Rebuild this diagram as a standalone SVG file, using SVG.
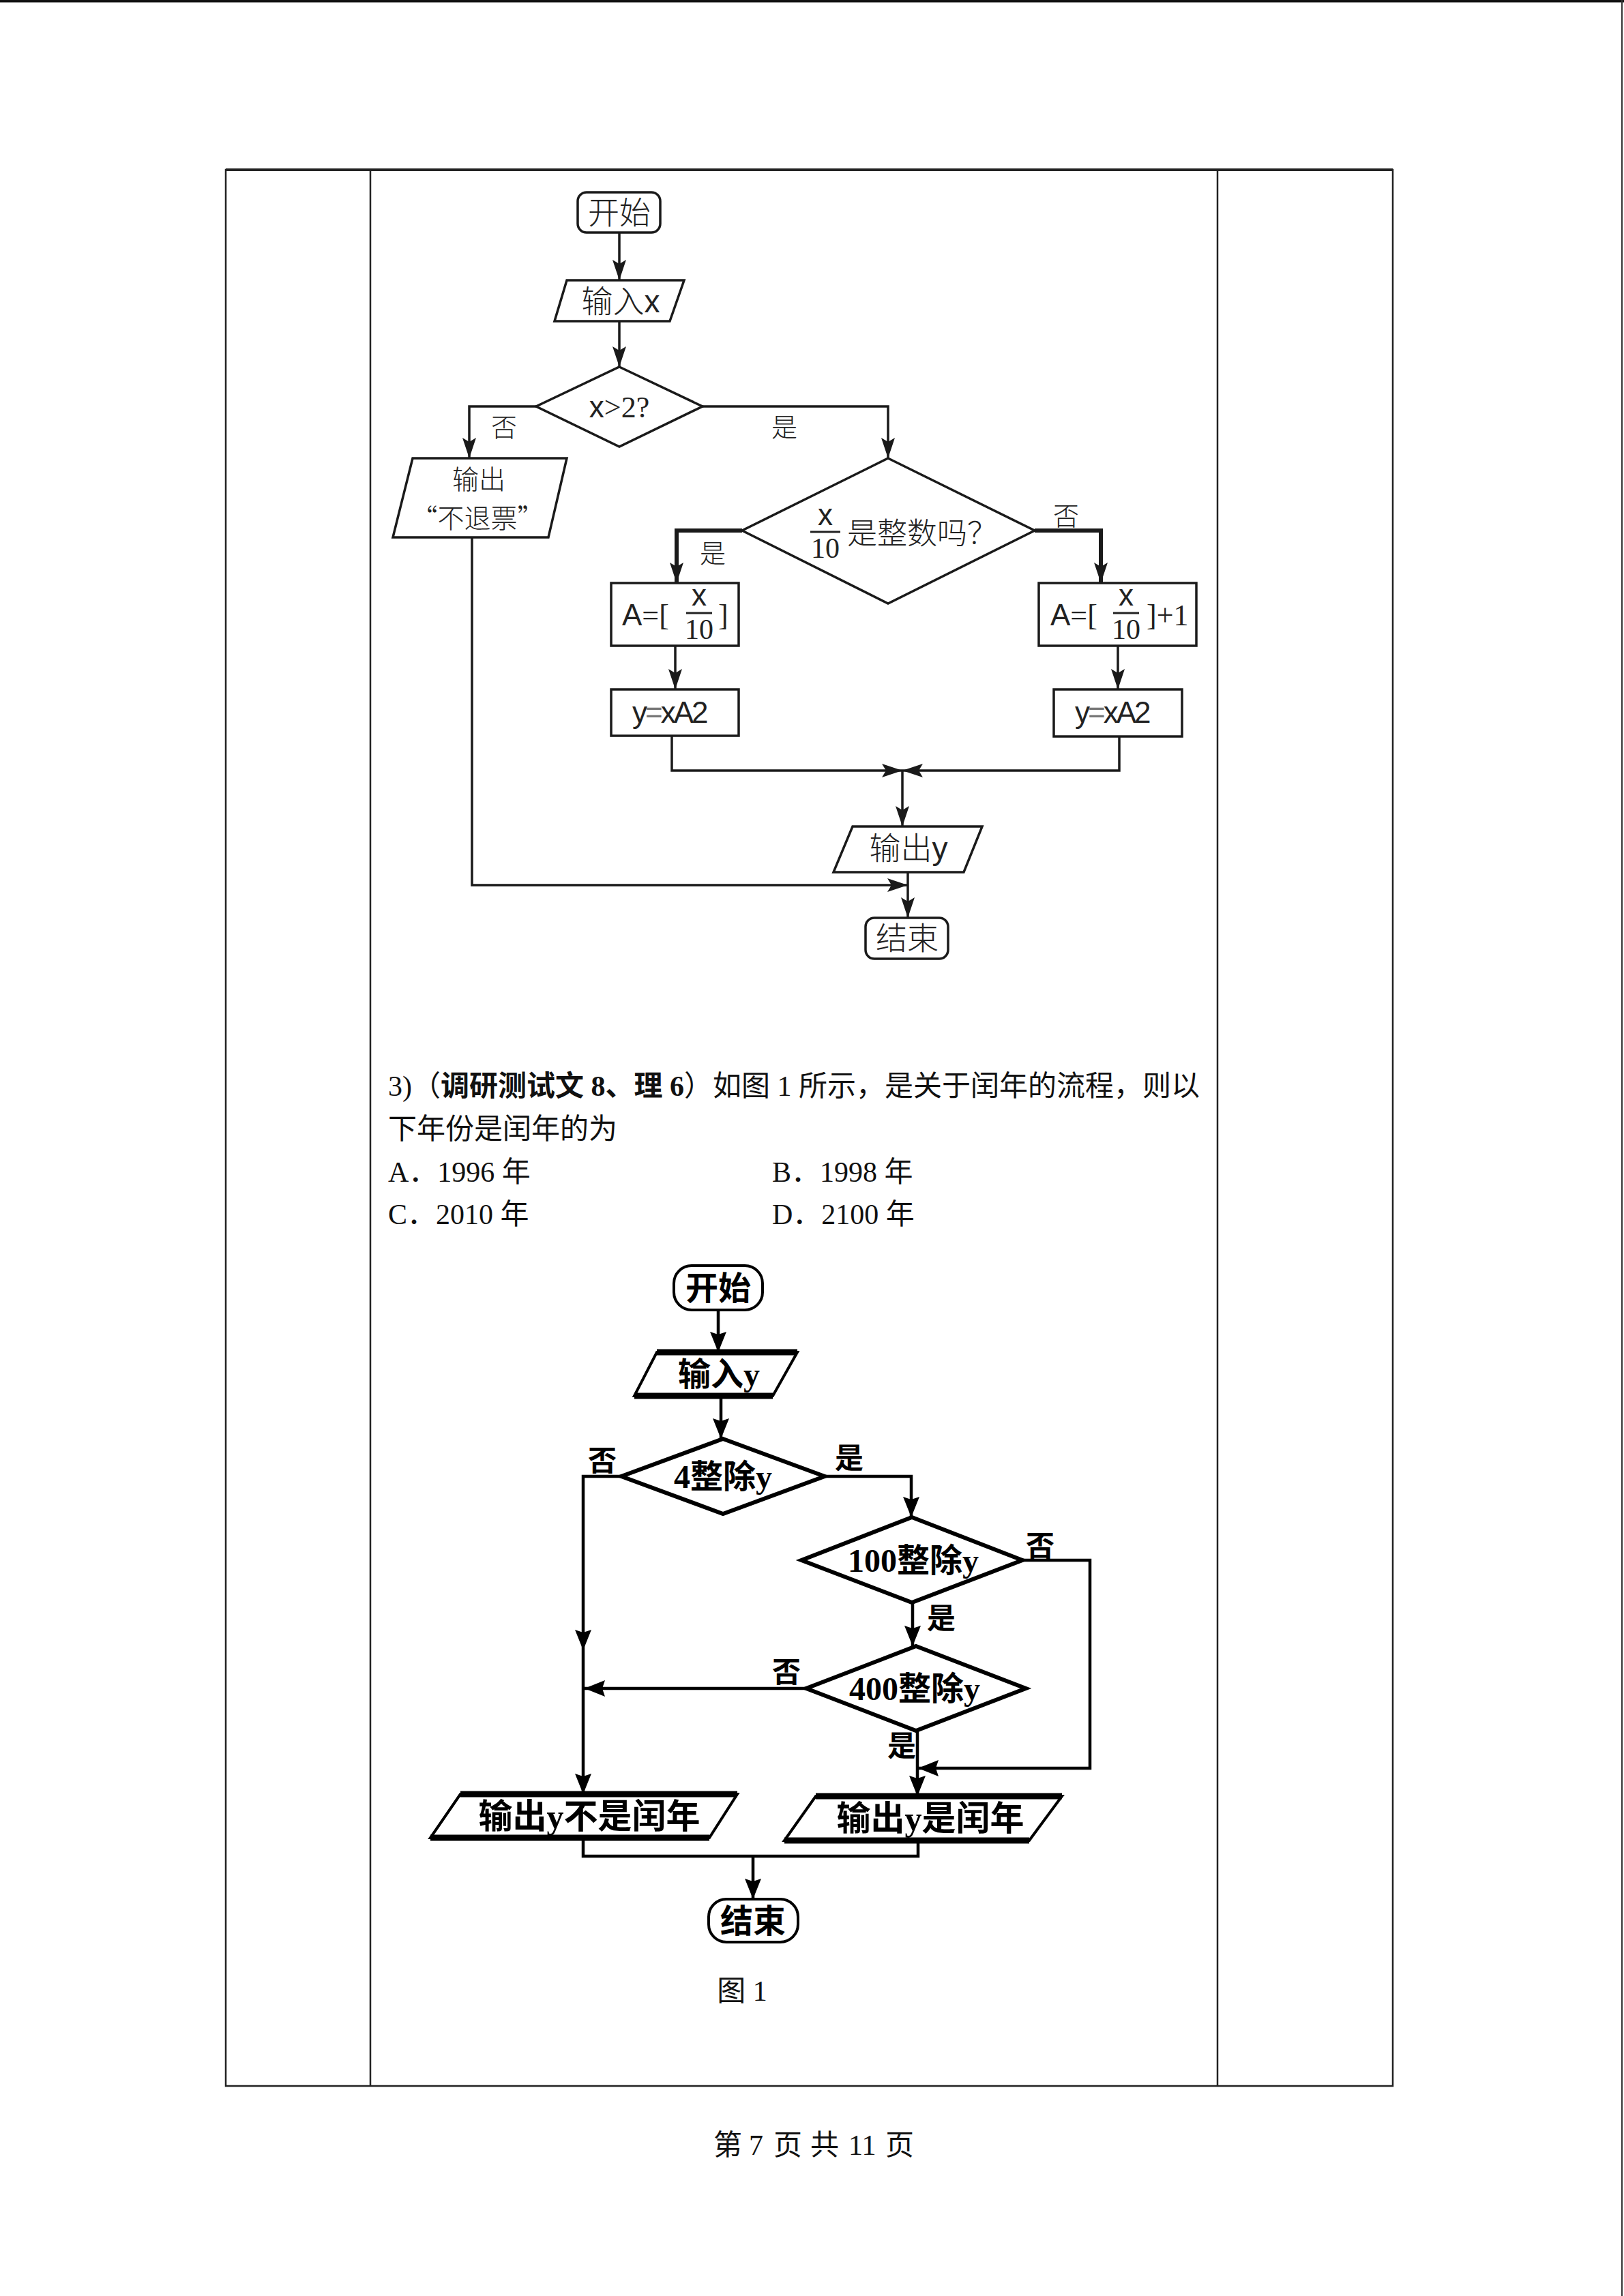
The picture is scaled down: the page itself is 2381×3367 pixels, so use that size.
<svg xmlns="http://www.w3.org/2000/svg" width="2381" height="3367" viewBox="0 0 2381 3367">
<style>
.bg{fill:#fff}
.frame{fill:none;stroke:#222;stroke-width:2.5}
.s1{fill:none;stroke:#1a1a1a;stroke-width:3.5}
.c1{fill:none;stroke:#1a1a1a;stroke-width:3.5}
.c1t{fill:none;stroke:#1a1a1a;stroke-width:6}
.s2{fill:none;stroke:#000;stroke-width:6}
.s2t{fill:none;stroke:#000;stroke-width:4}
.s2e{fill:none;stroke:#000;stroke-width:9}
.c2{fill:none;stroke:#000;stroke-width:4.5}
.cjk1{font-family:"Noto Sans CJK SC","Liberation Serif",sans-serif;font-weight:300;fill:#222}
.lat1{font-family:"Liberation Sans","Noto Sans CJK SC",sans-serif;fill:#222}
.ser1{font-family:"Liberation Serif","Noto Sans CJK SC",serif;fill:#222}
.b2{font-family:"Liberation Serif","Noto Sans CJK SC",serif;font-weight:bold;fill:#000}
.txt{font-family:"Liberation Serif","Noto Sans CJK SC",serif;fill:#111;font-size:42px}
.bold{font-weight:bold}
</style>
<defs>
<marker id="a1" viewBox="0 0 30 20" refX="30" refY="10" markerWidth="30" markerHeight="20" markerUnits="userSpaceOnUse" orient="auto">
<path d="M0,0 L30,10 L0,20 L6,10 Z" fill="#1a1a1a"/>
</marker>
<marker id="a2" viewBox="0 0 30 24" refX="30" refY="12" markerWidth="30" markerHeight="24" markerUnits="userSpaceOnUse" orient="auto">
<path d="M0,0 L30,12 L0,24 L4,12 Z" fill="#000"/>
</marker>
</defs>
<rect class="bg" x="0" y="0" width="2381" height="3367"/>
<!-- page edges -->
<line x1="0" y1="1.5" x2="2381" y2="1.5" stroke="#111" stroke-width="4"/>
<line x1="2378" y1="0" x2="2378" y2="3367" stroke="#333" stroke-width="2"/>
<!-- table -->
<g id="table">
<rect class="frame" x="331" y="249" width="1711" height="2810"/>
<line x1="331" y1="249" x2="2042" y2="249" stroke="#222" stroke-width="4"/>
<line class="frame" x1="543" y1="249" x2="543" y2="3059"/>
<line class="frame" x1="1785" y1="249" x2="1785" y2="3059"/>
</g>

<!-- ===== Flowchart 1 ===== -->
<g id="f1-connectors">
<path class="c1" d="M908,341 V411" marker-end="url(#a1)"/>
<path class="c1" d="M908,471 V538" marker-end="url(#a1)"/>
<path class="c1" d="M786,596 H688 V672" marker-end="url(#a1)"/>
<path class="c1" d="M1030,596 H1302 V672" marker-end="url(#a1)"/>
<path class="c1t" d="M1088,778 H992 V855" marker-end="url(#a1)"/>
<path class="c1t" d="M1517,778 H1614 V855" marker-end="url(#a1)"/>
<path class="c1" d="M990,947 V1011" marker-end="url(#a1)"/>
<path class="c1" d="M1639,947 V1011" marker-end="url(#a1)"/>
<path class="c1" d="M985,1079 V1130 H1323" marker-end="url(#a1)"/>
<path class="c1" d="M1641,1080 V1130 H1323" marker-end="url(#a1)"/>
<path class="c1" d="M1323,1130 V1212" marker-end="url(#a1)"/>
<path class="c1" d="M692,788 V1298 H1331" marker-end="url(#a1)"/>
<path class="c1" d="M1331,1279 V1346" marker-end="url(#a1)"/>
<text class="cjk1" x="739" y="640" font-size="38" text-anchor="middle">否</text>
<text class="cjk1" x="1150" y="640" font-size="38" text-anchor="middle">是</text>
<text class="cjk1" x="1045" y="825" font-size="38" text-anchor="middle">是</text>
<text class="cjk1" x="1563" y="770" font-size="38" text-anchor="middle">否</text>
</g>

<g id="f1-start">
<rect class="s1" x="847" y="282" width="121" height="59" rx="13"/>
<text class="cjk1" x="908" y="328" font-size="46" text-anchor="middle">开始</text>
</g>
<g id="f1-input">
<polygon class="s1" points="831,411 1003,411 982,471 813,471"/>
<text x="910" y="458" font-size="46" text-anchor="middle"><tspan class="cjk1">输入</tspan><tspan class="lat1">x</tspan></text>
</g>
<g id="f1-cond1">
<polygon class="s1" points="908,538 1030,596 908,655 786,596"/>
<text x="908" y="612" font-size="44" text-anchor="middle"><tspan class="lat1">x</tspan><tspan class="ser1">&gt;2?</tspan></text>
</g>
<g id="f1-noref">
<polygon class="s1" points="605,672 831,672 804,788 576,788"/>
<text class="cjk1" x="702" y="717" font-size="39" text-anchor="middle">输出</text>
<text class="cjk1" x="700" y="774" font-size="39" text-anchor="middle">“不退票”</text>
</g>
<g id="f1-cond2">
<polygon class="s1" points="1302,672 1517,778 1302,885 1088,778"/>
<text class="lat1" x="1210" y="770" font-size="44" text-anchor="middle">x</text>
<line x1="1188" y1="780" x2="1232" y2="780" stroke="#222" stroke-width="3"/>
<text class="ser1" x="1210" y="818" font-size="42" text-anchor="middle">10</text>
<text class="cjk1" x="1242" y="798" font-size="44">是整数吗？</text>
</g>
<g id="f1-boxA1">
<rect class="s1" x="896" y="855" width="187" height="92"/>
<text x="912" y="917" font-size="44"><tspan class="lat1">A</tspan><tspan class="ser1" fill="#777">=</tspan><tspan class="ser1">[</tspan></text>
<text class="lat1" x="1025" y="888" font-size="44" text-anchor="middle">x</text>
<line x1="1006" y1="899" x2="1044" y2="899" stroke="#222" stroke-width="3"/>
<text class="ser1" x="1025" y="937" font-size="42" text-anchor="middle">10</text>
<text class="ser1" x="1053" y="917" font-size="44">]</text>
</g>
<g id="f1-boxA2">
<rect class="s1" x="1523" y="855" width="231" height="92"/>
<text x="1540" y="917" font-size="44"><tspan class="lat1">A</tspan><tspan class="ser1" fill="#777">=</tspan><tspan class="ser1">[</tspan></text>
<text class="lat1" x="1651" y="888" font-size="44" text-anchor="middle">x</text>
<line x1="1632" y1="899" x2="1670" y2="899" stroke="#222" stroke-width="3"/>
<text class="ser1" x="1651" y="937" font-size="42" text-anchor="middle">10</text>
<text class="ser1" x="1681" y="917" font-size="44">]+1</text>
</g>
<g id="f1-boxY1">
<rect class="s1" x="896" y="1011" width="187" height="68"/>
<text class="lat1" x="927" y="1060" font-size="44" letter-spacing="-3">y<tspan fill="#777">=</tspan>xA2</text>
</g>
<g id="f1-boxY2">
<rect class="s1" x="1545" y="1011" width="188" height="69"/>
<text class="lat1" x="1576" y="1060" font-size="44" letter-spacing="-3">y<tspan fill="#777">=</tspan>xA2</text>
</g>
<g id="f1-output">
<polygon class="s1" points="1250,1212 1440,1212 1413,1279 1222,1279"/>
<text x="1332" y="1260" font-size="46" text-anchor="middle"><tspan class="cjk1">输出</tspan><tspan class="lat1">y</tspan></text>
</g>
<g id="f1-end">
<rect class="s1" x="1269" y="1346" width="121" height="60" rx="13"/>
<text class="cjk1" x="1330" y="1392" font-size="46" text-anchor="middle">结束</text>
</g>

<!-- ===== Question text ===== -->
<g id="question">
<text class="txt" x="569" y="1607">3)（<tspan class="bold">调研测试文 8、理 6</tspan>）如图 1 所示，是关于闰年的流程，则以</text>
<text class="txt" x="569" y="1670">下年份是闰年的为</text>
<text class="txt" x="569" y="1733">A．1996 年</text>
<text class="txt" x="1132" y="1733">B．1998 年</text>
<text class="txt" x="569" y="1795">C．2010 年</text>
<text class="txt" x="1132" y="1795">D．2100 年</text>
</g>

<!-- ===== Flowchart 2 ===== -->
<g id="f2-connectors">
<path class="c2" d="M1053,1921 V1983" marker-end="url(#a2)"/>
<path class="c2" d="M1057,2047 V2110" marker-end="url(#a2)"/>
<path class="c2" d="M911,2165 H855 V2420" marker-end="url(#a2)"/>
<path class="c2" d="M855,2420 V2631" marker-end="url(#a2)"/>
<path class="c2" d="M1209,2165 H1336 V2225" marker-end="url(#a2)"/>
<path class="c2" d="M1499,2288 H1598 V2593 H1346" marker-end="url(#a2)"/>
<path class="c2" d="M1338,2350 V2414" marker-end="url(#a2)"/>
<path class="c2" d="M1182,2476 H857" marker-end="url(#a2)"/>
<path class="c2" d="M1345,2538 V2634" marker-end="url(#a2)"/>
<path class="c2" d="M855,2695 V2722 H1346 V2699"/>
<path class="c2" d="M1104,2722 V2785" marker-end="url(#a2)"/>
<text class="b2" x="883" y="2157" font-size="42" text-anchor="middle">否</text>
<text class="b2" x="1245" y="2153" font-size="42" text-anchor="middle">是</text>
<text class="b2" x="1525" y="2282" font-size="42" text-anchor="middle">否</text>
<text class="b2" x="1380" y="2388" font-size="42" text-anchor="middle">是</text>
<text class="b2" x="1153" y="2467" font-size="42" text-anchor="middle">否</text>
<text class="b2" x="1322" y="2575" font-size="42" text-anchor="middle">是</text>
</g>
<g id="f2-start">
<rect class="s2t" x="988" y="1856" width="130" height="65" rx="26"/>
<text class="b2" x="1053" y="1906" font-size="48" text-anchor="middle">开始</text>
</g>
<g id="f2-input">
<polygon class="s2t" points="963,1983 1169,1983 1133,2047 930,2047"/>
<line class="s2e" x1="963" y1="1983" x2="1169" y2="1983" stroke-width="7"/>
<line class="s2e" x1="930" y1="2047" x2="1133" y2="2047" stroke-width="7"/>
<text class="b2" x="1054" y="2032" font-size="48" text-anchor="middle">输入y</text>
</g>
<g id="f2-cond4">
<polygon class="s2" points="1060,2110 1209,2165 1060,2220 911,2165"/>
<text class="b2" x="1060" y="2182" font-size="48" text-anchor="middle">4整除y</text>
</g>
<g id="f2-cond100">
<polygon class="s2" points="1337,2225 1499,2288 1337,2350 1175,2288"/>
<text class="b2" x="1339" y="2305" font-size="48" text-anchor="middle">100整除y</text>
</g>
<g id="f2-cond400">
<polygon class="s2" points="1343,2414 1504,2476 1343,2538 1182,2476"/>
<text class="b2" x="1341" y="2493" font-size="48" text-anchor="middle">400整除y</text>
</g>
<g id="f2-notleap">
<polygon class="s2t" points="675,2631 1081,2631 1040,2695 631,2695"/>
<line class="s2e" x1="675" y1="2631" x2="1081" y2="2631"/>
<line class="s2e" x1="631" y1="2695" x2="1040" y2="2695"/>
<text class="b2" x="864" y="2681" font-size="50" text-anchor="middle">输出y不是闰年</text>
</g>
<g id="f2-leap">
<polygon class="s2t" points="1196,2634 1557,2634 1509,2699 1150,2699"/>
<line class="s2e" x1="1196" y1="2634" x2="1557" y2="2634"/>
<line class="s2e" x1="1150" y1="2699" x2="1509" y2="2699"/>
<text class="b2" x="1364" y="2684" font-size="50" text-anchor="middle">输出y是闰年</text>
</g>
<g id="f2-end">
<rect class="s2t" x="1039" y="2785" width="131" height="63" rx="26"/>
<text class="b2" x="1104" y="2834" font-size="48" text-anchor="middle">结束</text>
</g>

<text class="txt" x="1088" y="2934" font-size="40" text-anchor="middle">图 1</text>

<g id="footer" class="txt" font-size="36">
<text x="1046" y="3160">第</text>
<text x="1098" y="3160">7</text>
<text x="1134" y="3160">页</text>
<text x="1188" y="3160">共</text>
<text x="1244" y="3160">11</text>
<text x="1298" y="3160">页</text>
</g>
</svg>
